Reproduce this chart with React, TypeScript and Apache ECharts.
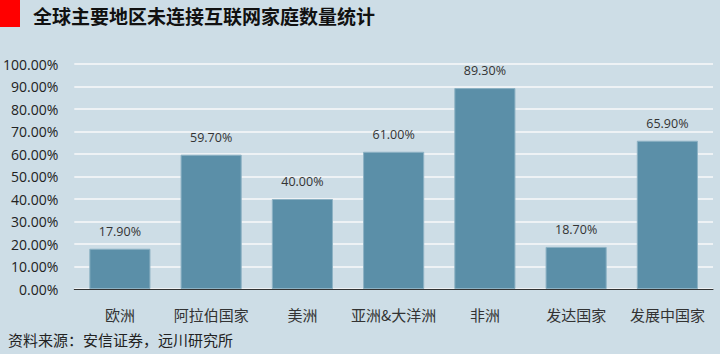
import React, { useEffect, useRef } from "react";
import * as echarts from "echarts";

const title = "全球主要地区未连接互联网家庭数量统计";
const source = "资料来源：安信证券，远川研究所";
const categories = ["欧洲", "阿拉伯国家", "美洲", "亚洲&大洋洲", "非洲", "发达国家", "发展中国家"];
const values = [17.9, 59.7, 40.0, 61.0, 89.3, 18.7, 65.9];

export default function App() {
  const ref = useRef<HTMLDivElement>(null);
  useEffect(() => {
    if (!ref.current) return;
    const chart = echarts.init(ref.current, null, { renderer: "svg" });
    const font = "'Noto Sans CJK SC', 'Microsoft YaHei', sans-serif";
    chart.setOption({
      animation: false,
      backgroundColor: "#cddde6",
      textStyle: { fontFamily: font },
      graphic: [
        { type: "rect", left: 0, top: 0, shape: { width: 20, height: 27 }, style: { fill: "#ff0000" } },
        {
          type: "text", left: 33, top: 6,
          style: { text: title, fontSize: 19, fontWeight: "bold", fill: "#111", fontFamily: font },
        },
        {
          type: "text", left: 8, top: 332,
          style: { text: source, fontSize: 15, fill: "#222", fontFamily: font },
        },
      ],
      grid: { left: 70, right: 7, top: 64, bottom: 65, containLabel: false },
      xAxis: {
        type: "category",
        data: categories,
        axisLine: { lineStyle: { color: "#333", width: 1 } },
        axisTick: { show: false },
        axisLabel: { color: "#333", fontSize: 15, margin: 18, interval: 0, fontFamily: font },
      },
      yAxis: {
        type: "value",
        min: 0,
        max: 100,
        interval: 10,
        axisLine: { show: false },
        axisTick: { show: false },
        splitLine: { lineStyle: { color: "#eef2f5", width: 2 } },
        axisLabel: {
          color: "#222", fontSize: 14, margin: 16, fontFamily: "'Open Sans', 'Noto Sans', sans-serif",
          formatter: (v: number) => v.toFixed(2) + "%",
        },
      },
      series: [
        {
          type: "bar",
          data: values,
          barWidth: "67%",
          itemStyle: { color: "#5b8fa8", borderColor: "#8db2c4", borderWidth: 1 },
          label: {
            show: true,
            position: "top",
            distance: 11,
            color: "#333",
            fontSize: 12.5,
            fontFamily: "'Open Sans', 'Noto Sans', sans-serif",
            formatter: (p: any) => Number(p.value).toFixed(2) + "%",
          },
        },
      ],
    });
    return () => chart.dispose();
  }, []);
  return <div ref={ref} style={{ width: 720, height: 354, position: "absolute", left: 0, top: 0 }} />;
}
